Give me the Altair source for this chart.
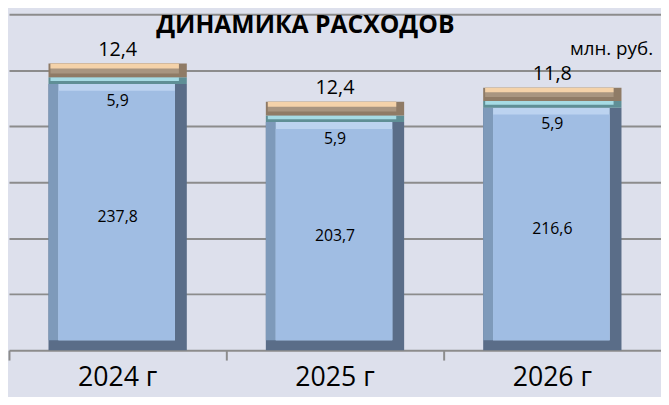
import altair as alt
import pandas as pd

years = ["2024 г", "2025 г", "2026 г"]
main_vals = [237.8, 203.7, 216.6]
mid_vals = [5.9, 5.9, 5.9]
top_vals = [12.4, 12.4, 11.8]
title_text = ["ДИНАМИКА РАСХОДОВ"]
unit_text = ["млн. руб."]

rows = []
for y, a, b, c in zip(years, main_vals, mid_vals, top_vals):
    rows.append({"year": y, "seg": "main", "value": a, "start": 0.0, "end": a})
    rows.append({"year": y, "seg": "mid", "value": b, "start": a, "end": a + b})
    rows.append({"year": y, "seg": "top", "value": c, "start": a + b, "end": a + b + c})
df = pd.DataFrame(rows)

FONT = "Open Sans"
GRID = "#8c8c8c"

xenc = alt.X("year:N", sort=years,
             scale=alt.Scale(paddingInner=0, paddingOuter=0),
             axis=alt.Axis(title=None, labelFontSize=27, labelColor="#000000", labelFont=FONT,
                           labelAngle=0, labelBaseline="alphabetic", labelPadding=26,
                           domainColor=GRID, domainWidth=2, tickColor=GRID, tickWidth=2,
                           tickSize=10, bandPosition=0, grid=False))
yenc = alt.Y("end:Q", scale=alt.Scale(domain=[0, 300]),
             axis=alt.Axis(title=None, labels=False, ticks=False, domain=False, grid=True,
                           gridColor=GRID, gridWidth=2, values=[50, 100, 150, 200, 250, 300]))
y2enc = alt.Y2("start:Q")

base = alt.Chart(df).encode(x=xenc, y=yenc, y2=y2enc)
main = base.transform_filter(alt.datum.seg == "main")
mid = base.transform_filter(alt.datum.seg == "mid")
top = base.transform_filter(alt.datum.seg == "top")

layers = [
    # main segment bevel
    main.mark_bar(size=140, color="#5a6d88"),
    main.mark_bar(size=128, xOffset=-6, y2Offset=-10, color="#7e9aba"),
    main.mark_bar(size=118, xOffset=-1, y2Offset=-10, color="#bcd3f0"),
    main.mark_bar(size=118, xOffset=-1, yOffset=7, y2Offset=-10, color="#a0bde3"),
    # middle segment
    mid.mark_bar(size=140, color="#5f8f96"),
    mid.mark_bar(size=130, xOffset=-3, y2Offset=-3, color="#a6dbe4"),
    # top segment
    top.mark_bar(size=140, color="#8f7b66"),
    top.mark_bar(size=130, xOffset=-3, y2Offset=-4, color="#a89580"),
    top.mark_bar(size=130, xOffset=-3, y2Offset=-9, color="#f4d2a9"),
]

lab_expr = "replace(format(datum.value, '.1f'), '.', ',')"

top_lab = alt.Chart(df).transform_filter(alt.datum.seg == "top").transform_calculate(
    lab=lab_expr).mark_text(baseline="bottom", dy=-4, fontSize=20, font=FONT, color="#000000"
).encode(x=alt.X("year:N", sort=years), y=alt.Y("end:Q"), text="lab:N")

mid_lab = alt.Chart(df).transform_filter(alt.datum.seg == "mid").transform_calculate(
    lab=lab_expr).mark_text(baseline="top", dy=9, fontSize=16, font=FONT, color="#000000"
).encode(x=alt.X("year:N", sort=years), y=alt.Y("start:Q"), text="lab:N")

main_lab = alt.Chart(df).transform_filter(alt.datum.seg == "main").transform_calculate(
    lab=lab_expr, mid="(datum.start + datum.end) / 2").mark_text(
    baseline="middle", fontSize=16, font=FONT, color="#000000"
).encode(x=alt.X("year:N", sort=years), y=alt.Y("mid:Q"), text="lab:N")

unit = alt.Chart(pd.DataFrame({"t": unit_text})).mark_text(
    align="right", baseline="alphabetic", fontSize=19, font=FONT, color="#000000"
).encode(x=alt.value(652), y=alt.value(41), text="t:N")

title = alt.Chart(pd.DataFrame({"t": title_text})).mark_text(
    align="center", baseline="alphabetic", fontSize=25, fontWeight="bold", font=FONT,
    color="#000000"
).encode(x=alt.value(300), y=alt.value(19), text="t:N")

chart = alt.layer(*layers, top_lab, mid_lab, main_lab, unit, title).properties(
    width=660, height=340,
    autosize=alt.AutoSizeParams(type="none"),
    padding={"left": 1, "top": 4, "right": 0, "bottom": 45},
    background="#dde0ec",
).configure_view(stroke=None)

chart.save("out.html", embed_options={"renderer": "svg", "actions": False})
